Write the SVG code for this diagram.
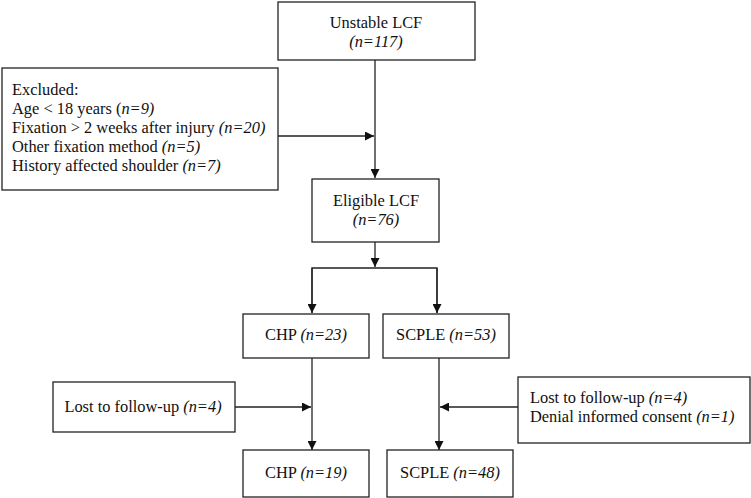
<svg xmlns="http://www.w3.org/2000/svg" width="751" height="498" viewBox="0 0 751 498">
<style>
  rect { fill: #fff; stroke: #222; stroke-width: 1.3; }
  text { font-family: "Liberation Serif", "Times New Roman", serif; font-size: 16.4px; fill: #111; }
  .c { text-anchor: middle; }
  .i { font-style: italic; }
  .ln { stroke: #222; stroke-width: 1.3; fill: none; }
</style>
<defs>
  <marker id="ah" viewBox="0 0 10 10" refX="10" refY="5" markerWidth="10" markerHeight="9" markerUnits="userSpaceOnUse" orient="auto">
    <path d="M0,0 L10,5 L0,10 z" fill="#111"/>
  </marker>
</defs>
<rect x="0" y="0" width="751" height="498" style="fill:#fff;stroke:none"/>
<g id="connectors">
  <line class="ln" x1="375" y1="60" x2="375" y2="178" marker-end="url(#ah)"/>
  <line class="ln" x1="278" y1="136" x2="374" y2="136" marker-end="url(#ah)"/>
  <line class="ln" x1="375" y1="242" x2="375" y2="267" marker-end="url(#ah)"/>
  <polyline class="ln" points="312,313 312,268 437,268 437,313"/>
  <line class="ln" x1="312" y1="268" x2="312" y2="313" marker-end="url(#ah)"/>
  <line class="ln" x1="437" y1="268" x2="437" y2="313" marker-end="url(#ah)"/>
  <line class="ln" x1="312" y1="358" x2="312" y2="450" marker-end="url(#ah)"/>
  <line class="ln" x1="235" y1="407" x2="311" y2="407" marker-end="url(#ah)"/>
  <line class="ln" x1="439" y1="358" x2="439" y2="450" marker-end="url(#ah)"/>
  <line class="ln" x1="518" y1="407" x2="440" y2="407" marker-end="url(#ah)"/>
</g>
<g id="unstable">
  <rect x="278" y="2" width="197" height="58"/>
  <text class="c" x="376" y="28">Unstable LCF</text>
  <text class="c i" x="376" y="47">(n=117)</text>
</g>
<g id="excluded">
  <rect x="2" y="68" width="276" height="122"/>
  <text x="12" y="95">Excluded:</text>
  <text x="12" y="114">Age &lt; 18 years (<tspan class="i">n=9)</tspan></text>
  <text x="12" y="133">Fixation &gt; 2 weeks after injury <tspan class="i">(n=20)</tspan></text>
  <text x="12" y="152">Other fixation method <tspan class="i">(n=5)</tspan></text>
  <text x="12" y="171">History affected shoulder <tspan class="i">(n=7)</tspan></text>
</g>
<g id="eligible">
  <rect x="312" y="179" width="127" height="63"/>
  <text class="c" x="376" y="206">Eligible LCF</text>
  <text class="c i" x="376" y="225">(n=76)</text>
</g>
<g id="chp23">
  <rect x="243" y="314" width="126" height="44"/>
  <text class="c" x="306" y="340">CHP <tspan class="i">(n=23)</tspan></text>
</g>
<g id="scple53">
  <rect x="383" y="314" width="126" height="44"/>
  <text class="c" x="446" y="340">SCPLE <tspan class="i">(n=53)</tspan></text>
</g>
<g id="lost-left">
  <rect x="53" y="382" width="182" height="50"/>
  <text class="c" x="143" y="412">Lost to follow-up <tspan class="i">(n=4)</tspan></text>
</g>
<g id="lost-right">
  <rect x="518" y="377" width="232" height="66"/>
  <text x="530" y="403">Lost to follow-up <tspan class="i">(n=4)</tspan></text>
  <text x="530" y="422">Denial informed consent <tspan class="i">(n=1)</tspan></text>
</g>
<g id="chp19">
  <rect x="243" y="450" width="126" height="47"/>
  <text class="c" x="306" y="478">CHP <tspan class="i">(n=19)</tspan></text>
</g>
<g id="scple48">
  <rect x="387" y="450" width="126" height="47"/>
  <text class="c" x="450" y="478">SCPLE <tspan class="i">(n=48)</tspan></text>
</g>
</svg>
